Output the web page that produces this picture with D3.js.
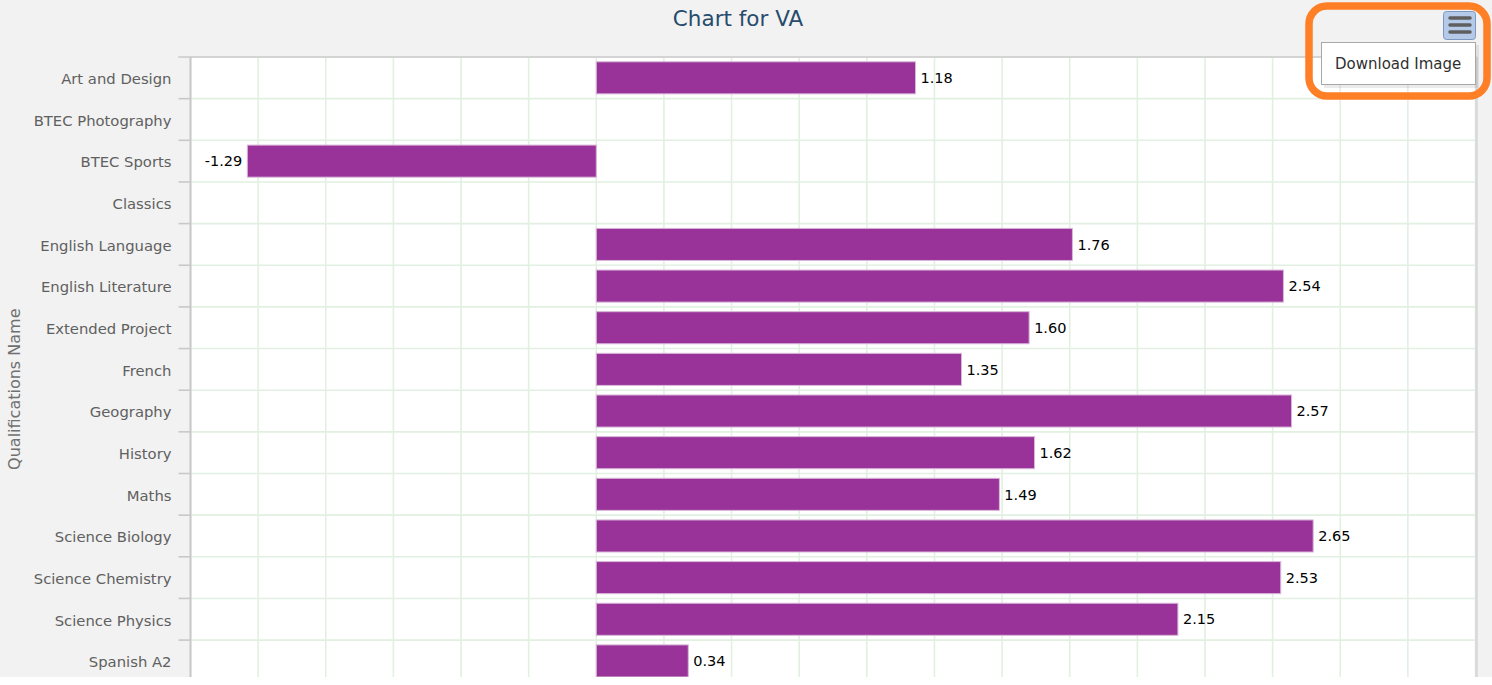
<!DOCTYPE html>
<html lang="en">
<head>
<meta charset="utf-8">
<title>Chart for VA</title>
<script src="https://cdn.jsdelivr.net/npm/d3@7"></script>
<style>
  body { margin: 0; background: #ffffff; overflow: hidden; }
  svg { display: block; font-family: "DejaVu Sans", Verdana, sans-serif; }
</style>
</head>
<body>
<script>
// data
var subjects = ["Art and Design", "BTEC Photography", "BTEC Sports", "Classics",
  "English Language", "English Literature", "Extended Project", "French",
  "Geography", "History", "Maths", "Science Biology", "Science Chemistry",
  "Science Physics", "Spanish A2"];
var vaValues = [1.18, null, -1.29, null, 1.76, 2.54, 1.60, 1.35, 2.57, 1.62,
  1.49, 2.65, 2.53, 2.15, 0.34];
var chartTitle = "Chart for VA";
var axisTitle = "Qualifications Name";
var xDomain = [-1.5, 3.25];

var W = 1492, H = 685;
var visibleH = 677; // screenshot is cut here, white strip below
var plot = {left: 190.5, top: 57, right: 1475.5, step: 41.65};
var plotBottom = plot.top + (subjects.length + 1) * plot.step; // chart runs past the window

var svg = d3.select("body").append("svg")
  .attr("width", W).attr("height", H);

var chart = svg.append("g");
chart.append("rect").attr("width", W).attr("height", H).attr("fill", "#f2f2f2");

var x = d3.scaleLinear().domain(xDomain).range([plot.left, plot.right]);
var pad = 0.23;
var y = d3.scaleBand().domain(subjects)
  .range([plot.top, plot.top + subjects.length * plot.step])
  .paddingInner(pad).paddingOuter(pad / 2);

// plot background
chart.append("rect")
  .attr("x", plot.left).attr("y", plot.top)
  .attr("width", plot.right - plot.left).attr("height", plotBottom - plot.top)
  .attr("fill", "#ffffff");

// vertical grid lines every 0.25
var gridVals = d3.range(xDomain[0], xDomain[1] + 0.001, 0.25);
chart.append("g").selectAll("line").data(gridVals).enter().append("line")
  .attr("x1", function (d) { return x(d); })
  .attr("x2", function (d) { return x(d); })
  .attr("y1", plot.top).attr("y2", plotBottom)
  .attr("stroke", "#e2f0e2").attr("stroke-width", 1.6);

// row boundaries
var rowEdges = subjects.map(function (s) { return y(s) - y.step() * pad / 2; });
rowEdges.push(plot.top + subjects.length * plot.step);
var rows = chart.append("g");
rows.selectAll("line.grid").data(rowEdges).enter().append("line")
  .attr("class", "grid")
  .attr("x1", plot.left).attr("x2", plot.right)
  .attr("y1", function (d) { return d; }).attr("y2", function (d) { return d; })
  .attr("stroke", "#e2f0e2").attr("stroke-width", 1.6);
rows.selectAll("line.tick").data(rowEdges).enter().append("line")
  .attr("class", "tick")
  .attr("x1", plot.left - 12).attr("x2", plot.left)
  .attr("y1", function (d) { return d; }).attr("y2", function (d) { return d; })
  .attr("stroke", "#c8c8c8").attr("stroke-width", 1.6);

// plot frame lines
chart.append("line").attr("x1", plot.left - 12).attr("x2", plot.right + 1)
  .attr("y1", plot.top).attr("y2", plot.top)
  .attr("stroke", "#d4d4d4").attr("stroke-width", 2);
chart.append("line").attr("x1", plot.left).attr("x2", plot.left)
  .attr("y1", plot.top).attr("y2", plotBottom)
  .attr("stroke", "#c8c8c8").attr("stroke-width", 2);
chart.append("line").attr("x1", plot.right + 1).attr("x2", plot.right + 1)
  .attr("y1", plot.top).attr("y2", plotBottom)
  .attr("stroke", "#d8d8d8").attr("stroke-width", 2.5);

// bars
var data = subjects.map(function (s, i) { return {name: s, value: vaValues[i]}; })
  .filter(function (d) { return d.value !== null; });

chart.append("g").selectAll("rect").data(data).enter().append("rect")
  .attr("x", function (d) { return x(Math.min(0, d.value)); })
  .attr("y", function (d) { return y(d.name); })
  .attr("width", function (d) { return Math.abs(x(d.value) - x(0)); })
  .attr("height", y.bandwidth())
  .attr("fill", "#993399")
  .attr("stroke", "#d8b8d8").attr("stroke-width", 1);

// data labels
chart.append("g").selectAll("text").data(data).enter().append("text")
  .attr("x", function (d) { return d.value < 0 ? x(d.value) - 5 : x(d.value) + 5; })
  .attr("y", function (d) { return y(d.name) + y.bandwidth() / 2; })
  .attr("dy", "0.36em")
  .attr("text-anchor", function (d) { return d.value < 0 ? "end" : "start"; })
  .attr("font-size", 14.5).attr("fill", "#000")
  .text(function (d) { return d.value.toFixed(2); });

// category labels
chart.append("g").selectAll("text").data(subjects).enter().append("text")
  .attr("x", plot.left - 19)
  .attr("y", function (d) { return y(d) + y.bandwidth() / 2 + 1; })
  .attr("dy", "0.36em")
  .attr("text-anchor", "end")
  .attr("font-size", 14.8).attr("fill", "#606060")
  .text(function (d) { return d; });

// axis title
chart.append("text")
  .attr("transform", "translate(20," + ((plot.top + plotBottom) / 2 - 1) + ") rotate(-90)")
  .attr("text-anchor", "middle")
  .attr("font-size", 16).attr("fill", "#707070")
  .text(axisTitle);

// chart title
chart.append("text")
  .attr("x", 738).attr("y", 26)
  .attr("text-anchor", "middle")
  .attr("font-size", 21.5).attr("fill", "#274b6d")
  .text(chartTitle);

// export menu
var menu = chart.append("g");
menu.append("rect")
  .attr("x", 1443.5).attr("y", 11.5).attr("width", 32).attr("height", 28).attr("rx", 3)
  .attr("fill", "#b4cae8").attr("stroke", "#7a98c0").attr("stroke-width", 1);
[18, 25, 32].forEach(function (ly) {
  menu.append("line").attr("x1", 1450).attr("x2", 1470)
    .attr("y1", ly).attr("y2", ly)
    .attr("stroke", "#5f5f5f").attr("stroke-width", 3.5).attr("stroke-linecap", "round");
});
menu.append("rect")
  .attr("x", 1324).attr("y", 45).attr("width", 155).attr("height", 43)
  .attr("fill", "#000").attr("opacity", 0.08);
menu.append("rect")
  .attr("x", 1321.5).attr("y", 42.5).attr("width", 154).attr("height", 42)
  .attr("fill", "#fff").attr("stroke", "#a8a8a8").attr("stroke-width", 1);
menu.append("text")
  .attr("x", 1335).attr("y", 69)
  .attr("font-size", 15).attr("fill", "#303030")
  .text("Download Image");
menu.append("rect")
  .attr("x", 1309).attr("y", 6).attr("width", 178).attr("height", 90).attr("rx", 18)
  .attr("fill", "none").attr("stroke", "#ff7f27").attr("stroke-width", 7.5);

// white strip under the cut-off chart
svg.append("rect").attr("x", 0).attr("y", visibleH)
  .attr("width", W).attr("height", H - visibleH).attr("fill", "#ffffff");
</script>
</body>
</html>
